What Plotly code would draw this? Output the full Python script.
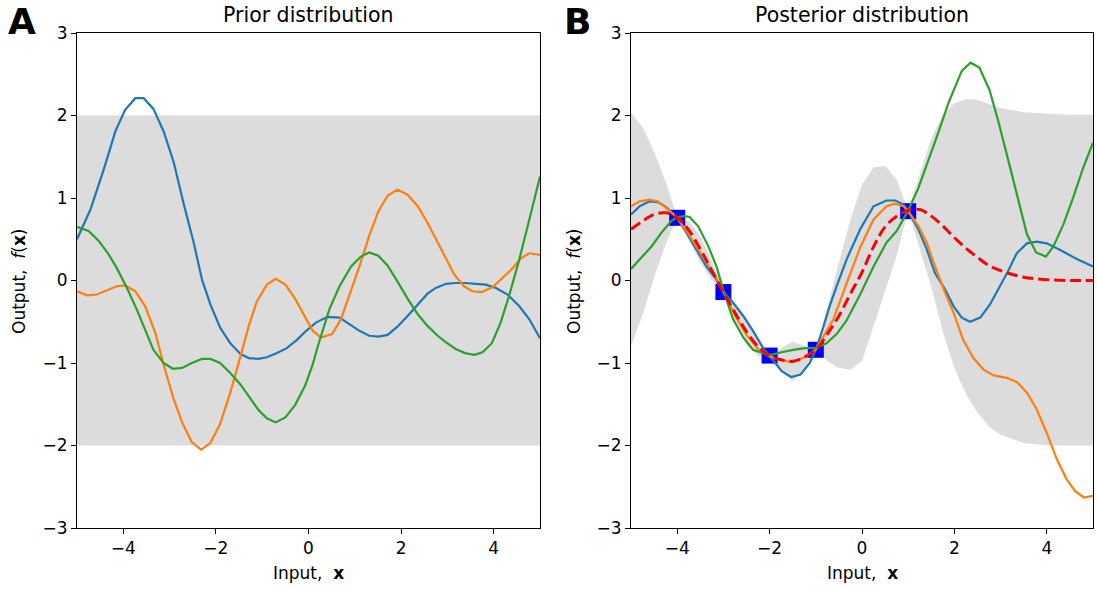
import plotly.graph_objects as go

# ---------------- data ----------------
# Prior samples
prior_blue_x = [-5.0, -4.71, -4.42, -4.17, -3.96, -3.74, -3.56, -3.35, -3.13, -2.91, -2.70, -2.48, -2.30, -2.12,
                -1.91, -1.69, -1.47, -1.29, -1.08, -0.90, -0.68, -0.47, -0.25, -0.05, 0.16, 0.41, 0.67, 0.88,
                1.10, 1.31, 1.51, 1.71, 1.92, 2.14, 2.36, 2.57, 2.75, 2.97, 3.18, 3.40, 3.61, 3.83, 4.05, 4.30,
                4.55, 4.77, 5.0]
prior_blue_y = [0.50, 0.86, 1.35, 1.81, 2.07, 2.21, 2.21, 2.08, 1.81, 1.43, 0.94, 0.46, 0.01, -0.29,
                -0.57, -0.76, -0.89, -0.94, -0.95, -0.93, -0.88, -0.82, -0.72, -0.61, -0.51, -0.44, -0.45, -0.53,
                -0.61, -0.67, -0.68, -0.66, -0.56, -0.43, -0.29, -0.16, -0.09, -0.04, -0.03, -0.03, -0.04, -0.05,
                -0.09, -0.17, -0.31, -0.47, -0.70]

prior_orange_x = [-5.0, -4.78, -4.57, -4.35, -4.14, -3.96, -3.74, -3.53, -3.31, -3.12, -2.91, -2.73, -2.52, -2.32,
                  -2.12, -1.91, -1.69, -1.47, -1.29, -1.12, -0.90, -0.71, -0.50, -0.29, -0.07, 0.09, 0.27, 0.51,
                  0.70, 0.88, 1.10, 1.31, 1.51, 1.71, 1.92, 2.14, 2.36, 2.57, 2.75, 2.97, 3.15, 3.36, 3.54, 3.74,
                  3.98, 4.19, 4.41, 4.59, 4.77, 5.0]
prior_orange_y = [-0.13, -0.18, -0.17, -0.12, -0.07, -0.06, -0.13, -0.31, -0.63, -1.04, -1.44, -1.72, -1.96, -2.05,
                  -1.97, -1.74, -1.36, -0.92, -0.55, -0.26, -0.05, 0.02, -0.05, -0.22, -0.44, -0.61, -0.69, -0.65,
                  -0.47, -0.19, 0.17, 0.54, 0.84, 1.03, 1.10, 1.04, 0.90, 0.70, 0.50, 0.25, 0.07, -0.07, -0.13, -0.14,
                  -0.08, 0.03, 0.15, 0.27, 0.33, 0.31]

prior_green_x = [-5.0, -4.75, -4.53, -4.32, -4.14, -3.92, -3.71, -3.53, -3.35, -3.13, -2.93, -2.73, -2.52, -2.30,
                 -2.12, -1.91, -1.69, -1.47, -1.26, -1.08, -0.90, -0.71, -0.50, -0.29, -0.07, 0.09, 0.20, 0.45, 0.67,
                 0.92, 1.13, 1.31, 1.51, 1.71, 1.92, 2.14, 2.36, 2.57, 2.79, 2.97, 3.18, 3.38, 3.58, 3.76, 3.96,
                 4.15, 4.33, 4.55, 4.77, 5.0]
prior_green_y = [0.65, 0.60, 0.48, 0.32, 0.15, -0.09, -0.35, -0.59, -0.84, -1.00, -1.07, -1.06, -1.00, -0.95,
                 -0.95, -1.00, -1.12, -1.26, -1.42, -1.57, -1.67, -1.72, -1.66, -1.51, -1.27, -1.02, -0.80, -0.35,
                 -0.07, 0.17, 0.29, 0.34, 0.30, 0.18, -0.01, -0.22, -0.41, -0.55, -0.67, -0.75, -0.83, -0.88, -0.90,
                 -0.87, -0.76, -0.51, -0.19, 0.25, 0.74, 1.26]

prior_band_x = [-5.0, 5.0]
prior_band_upper = [2.0, 2.0]
prior_band_lower = [-2.0, -2.0]

# Posterior
obs_x = [-4, -3, -2, -1, 1]
obs_y = [0.76, -0.14, -0.91, -0.84, 0.84]

post_x = [-5.0, -4.75, -4.5, -4.25, -4.0, -3.75, -3.5, -3.25, -3.0, -2.75, -2.5, -2.25, -2.0, -1.75, -1.5,
          -1.25, -1.0, -0.75, -0.5, -0.25, 0.0, 0.25, 0.5, 0.75, 1.0, 1.25, 1.5, 1.75, 2.0, 2.25, 2.5, 2.75,
          3.0, 3.5, 4.0, 4.5, 5.0]
post_mean = [0.62, 0.72, 0.80, 0.82, 0.76, 0.61, 0.38, 0.12, -0.14, -0.39, -0.62, -0.80, -0.91, -0.96, -0.98,
             -0.93, -0.84, -0.65, -0.43, -0.16, 0.10, 0.41, 0.65, 0.78, 0.85, 0.86, 0.78, 0.66, 0.52, 0.39, 0.28,
             0.18, 0.12, 0.04, 0.01, 0.0, 0.0]
post_upper = [2.03, 1.86, 1.56, 1.20, 0.76, 0.72, 0.54, 0.24, -0.14, -0.27, -0.46, -0.68, -0.91, -0.82, -0.74,
              -0.79, -0.84, -0.32, 0.20, 0.74, 1.16, 1.37, 1.39, 1.22, 0.85, 1.28, 1.72, 2.01, 2.15, 2.20, 2.19,
              2.14, 2.09, 2.04, 2.02, 2.01, 2.01]
post_lower = [-0.79, -0.42, 0.04, 0.44, 0.76, 0.49, 0.22, 0.00, -0.14, -0.51, -0.78, -0.92, -0.91, -1.10, -1.22,
              -1.07, -0.84, -0.98, -1.06, -1.08, -0.98, -0.55, -0.12, 0.30, 0.85, 0.40, -0.08, -0.62, -1.06, -1.38,
              -1.60, -1.77, -1.87, -1.97, -2.0, -2.0, -2.0]

post_blue_x = [-5.0, -4.81, -4.60, -4.42, -4.24, -4.0, -3.80, -3.59, -3.37, -3.15, -3.0, -2.79, -2.57, -2.36, -2.14,
               -1.96, -1.74, -1.53, -1.33, -1.13, -1.0, -0.84, -0.70, -0.55, -0.33, -0.04, 0.25, 0.53, 0.72, 0.90,
               1.0, 1.22, 1.40, 1.58, 1.80, 1.98, 2.16, 2.34, 2.56, 2.77, 2.99, 3.15, 3.35, 3.57, 3.78, 4.0, 4.29,
               4.65, 5.0]
post_blue_y = [0.80, 0.90, 0.96, 0.95, 0.89, 0.76, 0.58, 0.38, 0.17, 0.01, -0.14, -0.27, -0.43, -0.61, -0.82,
               -0.94, -1.10, -1.17, -1.14, -1.00, -0.84, -0.57, -0.31, -0.07, 0.26, 0.62, 0.90, 0.97, 0.97, 0.92,
               0.84, 0.62, 0.38, 0.09, -0.11, -0.31, -0.45, -0.50, -0.45, -0.29, -0.07, 0.10, 0.33, 0.45, 0.47,
               0.45, 0.37, 0.26, 0.17]

post_orange_x = [-5.0, -4.81, -4.60, -4.42, -4.24, -4.0, -3.80, -3.59, -3.37, -3.15, -3.0, -2.75, -2.5, -2.25, -2.0,
                 -1.75, -1.5, -1.25, -1.0, -0.62, -0.33, -0.04, 0.25, 0.53, 0.71, 0.90, 1.0, 1.22, 1.40, 1.58,
                 1.80, 1.98, 2.19, 2.41, 2.63, 2.85, 3.13, 3.35, 3.57, 3.78, 4.0, 4.22, 4.43, 4.61, 4.80, 5.0]
post_orange_y = [0.90, 0.96, 0.98, 0.96, 0.88, 0.76, 0.60, 0.42, 0.23, 0.03, -0.14, -0.42, -0.66, -0.83, -0.92,
                 -0.97, -0.99, -0.93, -0.84, -0.47, -0.03, 0.40, 0.74, 0.90, 0.93, 0.90, 0.84, 0.66, 0.46, 0.17,
                 -0.15, -0.39, -0.72, -0.94, -1.08, -1.15, -1.18, -1.23, -1.36, -1.56, -1.85, -2.17, -2.41, -2.55,
                 -2.63, -2.61]

post_green_x = [-5.0, -4.78, -4.56, -4.34, -4.13, -4.0, -3.84, -3.73, -3.55, -3.33, -3.15, -3.0, -2.79, -2.57, -2.36,
                -2.14, -1.96, -1.74, -1.49, -1.24, -1.0, -0.77, -0.55, -0.34, -0.04, 0.25, 0.53, 0.75, 1.0, 1.22,
                1.44, 1.65, 1.87, 2.16, 2.35, 2.54, 2.76, 2.95, 3.17, 3.39, 3.57, 3.77, 3.98, 4.14, 4.36, 4.58,
                4.79, 5.0]
post_green_y = [0.14, 0.27, 0.41, 0.58, 0.72, 0.77, 0.78, 0.77, 0.66, 0.42, 0.17, -0.12, -0.47, -0.69, -0.84,
                -0.88, -0.90, -0.87, -0.84, -0.82, -0.82, -0.76, -0.65, -0.49, -0.17, 0.17, 0.46, 0.60, 0.85, 1.12,
                1.45, 1.79, 2.15, 2.54, 2.64, 2.58, 2.31, 1.93, 1.45, 0.94, 0.56, 0.34, 0.29, 0.41, 0.68, 1.02,
                1.37, 1.67]

x_ticks = [-4, -2, 0, 2, 4]
y_ticks = [-3, -2, -1, 0, 1, 2, 3]

# ---------------- styling ----------------
W, H = 1097, 590
C_BLUE, C_ORANGE, C_GREEN = "#1f77b4", "#ff7f0e", "#2ca02c"
BAND = "#dcdcdc"
FONT = "DejaVu Sans"

def px_x(p):
    return p / W

def px_y(p):
    return 1 - p / H

fig = go.Figure()

def add_band(x, up, lo, xa, ya):
    fig.add_trace(go.Scatter(x=x, y=up, mode="lines", line=dict(width=0, color=BAND),
                             xaxis=xa, yaxis=ya, showlegend=False, hoverinfo="skip"))
    fig.add_trace(go.Scatter(x=x, y=lo, mode="lines", line=dict(width=0, color=BAND), fill="tonexty",
                             fillcolor=BAND, xaxis=xa, yaxis=ya, showlegend=False, hoverinfo="skip"))

def add_line(x, y, color, xa, ya, width=2.2, dash=None, shape="linear"):
    fig.add_trace(go.Scatter(x=x, y=y, mode="lines",
                             line=dict(color=color, width=width, dash=dash, shape=shape),
                             xaxis=xa, yaxis=ya, showlegend=False))

# Prior panel
add_band(prior_band_x, prior_band_upper, prior_band_lower, "x", "y")
add_line(prior_blue_x, prior_blue_y, C_BLUE, "x", "y")
add_line(prior_orange_x, prior_orange_y, C_ORANGE, "x", "y")
add_line(prior_green_x, prior_green_y, C_GREEN, "x", "y")

# Posterior panel
add_band(post_x, post_upper, post_lower, "x2", "y2")
fig.add_trace(go.Scatter(x=obs_x, y=obs_y, mode="markers",
                         marker=dict(symbol="square", size=16, color="#0000ff", line=dict(width=0)),
                         xaxis="x2", yaxis="y2", showlegend=False))
add_line(post_blue_x, post_blue_y, C_BLUE, "x2", "y2")
add_line(post_orange_x, post_orange_y, C_ORANGE, "x2", "y2")
add_line(post_green_x, post_green_y, C_GREEN, "x2", "y2")
add_line(post_x, post_mean, "#ff0000", "x2", "y2", width=3, dash="11px,5px", shape="spline")

axis_common = dict(showline=True, linecolor="black", linewidth=1, mirror=True, showgrid=False,
                   zeroline=False, ticks="outside", ticklen=5, tickwidth=1, tickcolor="black",
                   automargin=False,
                   tickfont=dict(family=FONT, size=17, color="black"))

yd = [px_y(528), px_y(33)]
fig.update_layout(
    width=W, height=H, margin=dict(l=0, r=0, t=0, b=0),
    paper_bgcolor="white", plot_bgcolor="white",
    xaxis=dict(domain=[px_x(77), px_x(540)], range=[-5, 5], tickvals=x_ticks, anchor="y", **axis_common),
    yaxis=dict(domain=yd, range=[-3, 3], tickvals=y_ticks, anchor="x", **axis_common),
    xaxis2=dict(domain=[px_x(631), px_x(1093)], range=[-5, 5], tickvals=x_ticks, anchor="y2", **axis_common),
    yaxis2=dict(domain=yd, range=[-3, 3], tickvals=y_ticks, anchor="x2", **axis_common),
)

ann = []
def text(s, x, y, size, xanchor="center", yanchor="middle", angle=0):
    ann.append(dict(text=s, x=px_x(x), y=px_y(y), xref="paper", yref="paper", showarrow=False,
                    xanchor=xanchor, yanchor=yanchor, textangle=angle,
                    font=dict(family=FONT, size=size, color="black")))

text("Prior distribution", 308, 15, 20.5)
text("Posterior distribution", 862, 15, 20.5)
text("Input,  <b>x</b>", 308, 573, 17)
text("Input,  <b>x</b>", 862, 573, 17)
text("Output,  <i>f</i>(<b>x</b>)", 19, 281, 17, angle=-90)
text("Output,  <i>f</i>(<b>x</b>)", 574, 281, 17, angle=-90)
text("<b>A</b>", 22, 22, 36)
text("<b>B</b>", 577, 22, 36)
fig.update_layout(annotations=ann)

fig.write_html("out.html")
